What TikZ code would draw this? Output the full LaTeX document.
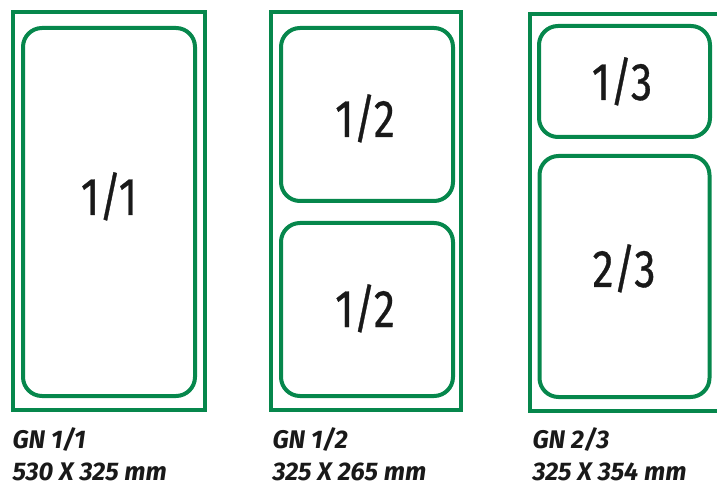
\documentclass[tikz,border=0pt]{standalone}
\usepackage{fontspec}
\usepackage{tikz}
\newfontfamily\fracfont[FakeStretch=0.8,FakeBold=0.6]{Fira Sans}
\newfontfamily\capfont{Fira Sans}
\definecolor{gngreen}{RGB}{6,135,76}

\begin{document}
\begin{tikzpicture}[x=1pt,y=-1pt,
        tray/.style = {draw=gngreen, line width=4pt, rectangle, inner sep=0pt},
        pan/.style = {draw=gngreen, line width=4pt, rectangle, rounded corners=19pt, inner sep=0pt},
        frac/.style = {anchor=base, font=\fracfont\fontsize{53}{60}\selectfont, text=black!90},
        caption/.style = {anchor=base west, font=\capfont\bfseries\itshape\fontsize{25.5}{30}\selectfont, text=black!90}]
        \useasboundingbox (0,0) rectangle (717,486);
        % GN 1/1
        \node[tray] (t1) [minimum width=192pt, minimum height=398pt] at (109,211) {};
        \node[pan] (p1) [minimum width=172pt, minimum height=368pt] at (109,212) {};
        \node[frac] (f1) at (109,215) {1/1};
        % GN 1/2
        \node[tray] (t2) [minimum width=190pt, minimum height=398pt] at (366,211) {};
        \node[pan] (p2a) [minimum width=172pt, minimum height=173pt] at (367,114.5) {};
        \node[pan] (p2b) [minimum width=172pt, minimum height=173pt] at (367,309.5) {};
        \node[frac] (f2a) at (365,137) {1/2};
        \node[frac] (f2b) at (365,327) {1/2};
        % GN 2/3
        \node[tray] (t3) [minimum width=194pt, minimum height=397pt] at (627,212.5) {};
        \node[pan] (p3a) [minimum width=171pt, minimum height=111pt] at (624.5,81.5) {};
        \node[pan] (p3b) [minimum width=170pt, minimum height=241pt] at (624.5,276.5) {};
        \node[frac] (f3a) at (622,100) {1/3};
        \node[frac] (f3b) at (624,287) {2/3};
        % captions
        \node[caption] (c1) at (9,448) {GN 1/1};
        \node[caption] (d1) at (9,480) {530 X 325 mm};
        \node[caption] (c2) at (269,448) {GN 1/2};
        \node[caption] (d2) at (269,480) {325 X 265 mm};
        \node[caption] (c3) at (529,448) {GN 2/3};
        \node[caption] (d3) at (529,480) {325 X 354 mm};
\end{tikzpicture}
\end{document}
